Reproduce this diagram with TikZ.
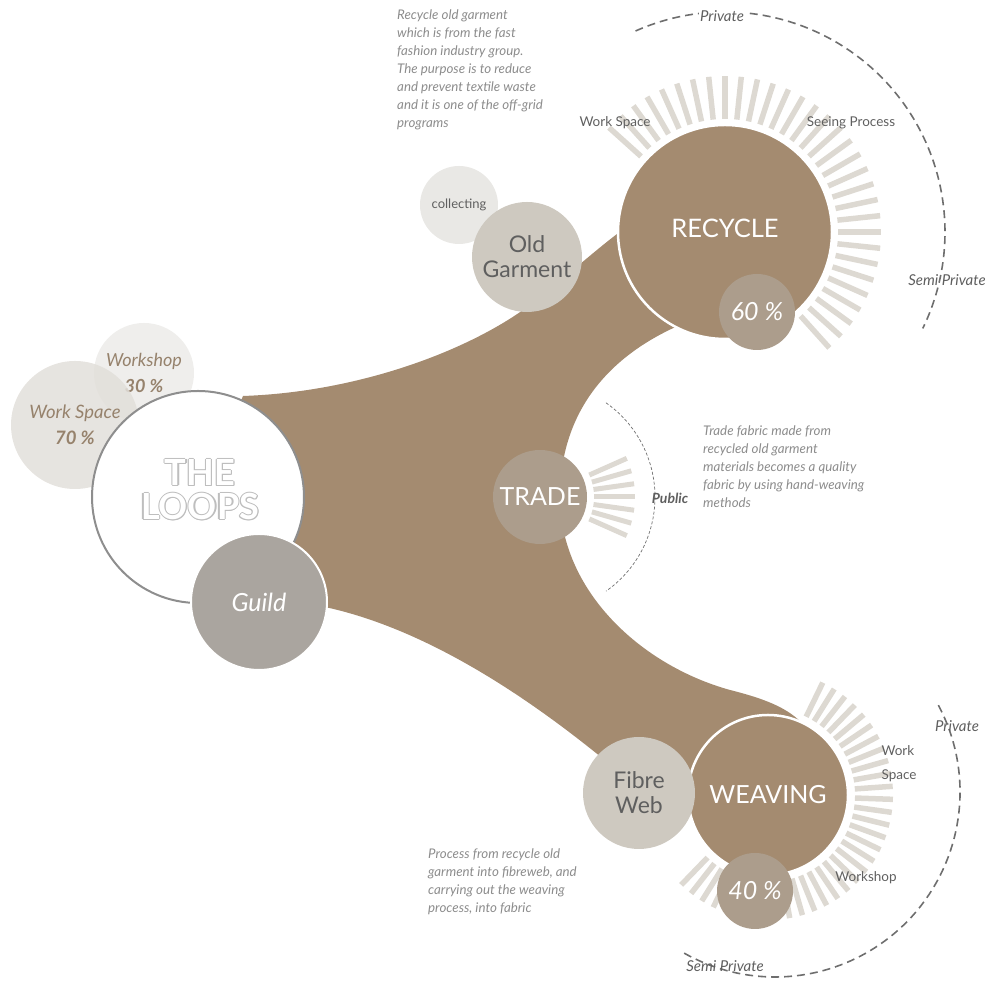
\documentclass[tikz,border=0pt]{standalone}
\usepackage{fontspec}
\setmainfont{Lato}
\usepackage{tikz}
\definecolor{loopbrown}{RGB}{164, 139, 112}
\definecolor{softbrown}{RGB}{172, 157, 140}
\definecolor{raygray}{RGB}{221, 217, 210}
\definecolor{stonegray}{RGB}{206, 201, 192}
\definecolor{palegray}{RGB}{233, 232, 229}
\definecolor{guildgray}{RGB}{170, 165, 159}
\definecolor{spacegray}{RGB}{226, 223, 218}
\definecolor{shopgray}{RGB}{239, 238, 236}
\definecolor{rimgray}{RGB}{142, 142, 142}
\definecolor{linegray}{RGB}{110, 110, 110}
\definecolor{notegray}{RGB}{140, 140, 140}
\definecolor{labelgray}{RGB}{95, 95, 95}
\definecolor{tanfont}{RGB}{150, 130, 108}
\definecolor{hollowgray}{RGB}{190, 190, 190}

\begin{document}
\begin{tikzpicture}[x=1pt, y=1pt,
  bubble/.style={circle, inner sep=0pt, outer sep=0pt, minimum size=#1, align=center},
  ray/.style={raygray, line width=5.5pt},
  zone/.style={linegray, dash pattern=on 8pt off 5pt, line width=1.6pt},
  zonelabel/.style={font=\fontsize{15}{17}\selectfont\itshape, text=labelgray, inner sep=1pt},
  spacelabel/.style={font=\fontsize{13.5}{24}\selectfont, text=labelgray, inner sep=1pt, align=left},
  note/.style={font=\fontsize{13.3}{18}\selectfont\itshape, text=notegray, align=left, anchor=north west, inner sep=0pt},
  hollowtext/.style={font=\fontsize{36}{34}\selectfont\bfseries, align=center, inner sep=0pt}]
  \useasboundingbox (0, 0) rectangle (985, 981);

  % centres
  \coordinate (recC) at (725, 749);
  \coordinate (tradeC) at (540, 484);
  \coordinate (weaveC) at (768, 186);
  \coordinate (weaveZ) at (775, 189);

  % Body
  \fill [loopbrown] (200, 484) -- (243, 585)
    .. controls (360, 589) and (470, 631) .. (530, 676)
    .. controls (565, 703) and (595, 731) .. (625, 753) -- (725, 749) -- (680, 656)
    .. controls (600, 621) and (560, 561) .. (560, 484)
    .. controls (560, 391) and (640, 316) .. (730, 291)
    .. controls (770, 281) and (800, 269) .. (812, 243) -- (768, 186) -- (640, 191)
    .. controls (560, 261) and (440, 351) .. (320, 375) -- (259, 379) -- cycle;

  % Recycle rays and zones
  \foreach \a in {-48, -42, ..., 138}
    \draw [ray] ([shift={(\a:113)}]recC) -- ([shift={(\a:156)}]recC);
  \draw [zone] ([shift={(114:220)}]recC) arc [start angle=114, end angle=-26, radius=220];
  \node [zonelabel, fill=white] (recpriv) at (722, 965) {Private};
  \node [zonelabel] (recsemi) at (947, 701) {Semi Private};
  \node [spacelabel] (recspace) at (615, 858) {Work Space};
  \node [spacelabel] (recseeing) at (851, 858) {Seeing Process};

  % Trade rays and zone
  \foreach \a in {-24, -16, ..., 24}
    \draw [ray, line width=5pt] ([shift={(\a:54)}]tradeC) -- ([shift={(\a:95)}]tradeC);
  \draw [linegray, dash pattern=on 3pt off 2pt, line width=0.7pt]
    ([shift={(55:115)}]tradeC) arc [start angle=55, end angle=-55, radius=115];
  \node [zonelabel, font=\fontsize{14}{16}\selectfont\bfseries\itshape] (public) at (670, 483) {Public};

  % Weaving rays and zones
  \foreach \a in {-134, -128, ..., 64}
    \draw [ray] ([shift={(\a:87)}]weaveC) -- ([shift={(\a:125)}]weaveC);
  \draw [zone] ([shift={(28:185)}]weaveZ) arc [start angle=28, end angle=-120, radius=185];
  \node [zonelabel] (weavpriv) at (957, 255) {Private};
  \node [zonelabel] (weavsemi) at (725, 15) {Semi Private};
  \node [spacelabel] (weavspace) at (899, 217) {Work\\Space};
  \node [spacelabel] (weavshop) at (866, 103) {Workshop};

  % Recycle group
  \node [bubble=78, fill=palegray, text=labelgray, font=\fontsize{13}{14}\selectfont] (collect) at (459, 776) {collecting};
  \node [bubble=110, fill=stonegray, text=labelgray, font=\fontsize{23}{25}\selectfont] (old) at (527, 724) {Old\\Garment};
  \node [bubble=214, fill=loopbrown, draw=white, line width=2.5pt, text=white, font=\fontsize{25.5}{27}\selectfont] (recycle) at (recC) {\raisebox{8pt}{RECYCLE}};
  \node [bubble=76, fill=softbrown, text=white, font=\fontsize{25}{26}\selectfont\itshape] (p60) at (757, 669) {60 \%};

  % The Loops group
  \node [bubble=100, fill=shopgray, text=tanfont, font=\fontsize{18}{24}\selectfont\itshape] (shop) at (144, 608) {\raisebox{2pt}{Workshop}\\\textbf{30 \%}};
  \node [bubble=128, fill=spacegray, fill opacity=0.85, text opacity=1, text=tanfont, font=\fontsize{18.5}{24}\selectfont\itshape] (space) at (75, 556) {\raisebox{2pt}{Work Space}\\\textbf{70 \%}};
  \node [bubble=212, fill=white, draw=rimgray, line width=2pt] (loops) at (198, 484) {};
  \foreach \ang in {0, 45, ..., 315}
    \node [hollowtext, text=hollowgray] at ([shift={(\ang:1.1)}]200, 491) {THE\\LOOPS};
  \node [hollowtext, text=white] (loopstext) at (200, 491) {THE\\LOOPS};
  \node [bubble=136, fill=guildgray, draw=white, line width=2pt, text=white, font=\fontsize{25}{26}\selectfont\itshape] (guild) at (259, 379) {Guild};

  % Trade
  \node [bubble=94, fill=softbrown, text=white, font=\fontsize{25}{26}\selectfont] (trade) at (tradeC) {TRADE};

  % Weaving group
  \node [bubble=160, fill=loopbrown, draw=white, line width=2.5pt, text=white, font=\fontsize{25}{27}\selectfont] (weaving) at (weaveC) {WEAVING};
  \node [bubble=76, fill=softbrown, text=white, font=\fontsize{25}{26}\selectfont\itshape] (p40) at (755, 90) {40 \%};
  \node [bubble=112, fill=stonegray, text=labelgray, font=\fontsize{23}{25}\selectfont] (fibre) at (639, 188) {Fibre\\Web};

  % Notes
  \node [note] (recnote) at (397, 971) {Recycle old garment\\which is from the fast\\fashion industry group.\\The purpose is to reduce\\and prevent textile waste\\and it is one of the off-grid\\programs};
  \node [note] (tradenote) at (703, 555) {Trade fabric made from\\recycled old garment\\materials becomes a quality\\fabric by using hand-weaving\\methods};
  \node [note] (weavnote) at (428, 132) {Process from recycle old\\garment into fibreweb, and\\carrying out the weaving\\process, into fabric};
\end{tikzpicture}
\end{document}
